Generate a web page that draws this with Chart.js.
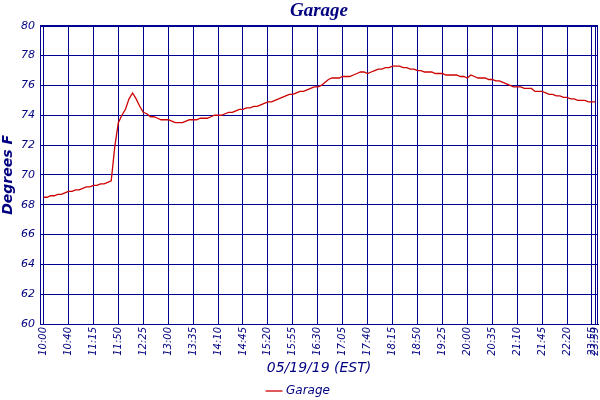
<!DOCTYPE html>
<html>
<head>
<meta charset="utf-8">
<title>Garage</title>
<script src="https://cdn.jsdelivr.net/npm/chart.js@4.4.1/dist/chart.umd.min.js"></script>
<style>
  html, body { margin: 0; padding: 0; background: #fff; }
  #wrap { width: 600px; height: 400px; position: relative; }
</style>
</head>
<body>
<div id="wrap"><canvas id="chartGarage"></canvas></div>
<script>
// ── Data ──
const seriesName = 'Garage';
const xTitle = '05/19/19 (EST)';
const yTitle = 'Degrees F';

// one reading per sample, 5 min apart, first sample sits on the "10:00" line
const temps = [
  68.5, 68.5, 68.6, 68.6, 68.7, 68.7, 68.8, 68.9, 68.9, 69.0,
  69.0, 69.1, 69.2, 69.2, 69.3, 69.3, 69.4, 69.4, 69.5, 69.6,
  71.9, 73.5, 74.0, 74.4, 75.1, 75.5, 75.1, 74.6, 74.2, 74.1,
  73.9, 73.9, 73.8, 73.7, 73.7, 73.7, 73.6, 73.5, 73.5, 73.5,
  73.6, 73.7, 73.7, 73.7, 73.8, 73.8, 73.8, 73.9, 74.0, 74.0,
  74.0, 74.1, 74.2, 74.2, 74.3, 74.4, 74.4, 74.5, 74.5, 74.6,
  74.6, 74.7, 74.8, 74.9, 74.9, 75.0, 75.1, 75.2, 75.3, 75.4,
  75.4, 75.5, 75.6, 75.6, 75.7, 75.8, 75.9, 75.9, 76.0, 76.2,
  76.4, 76.5, 76.5, 76.5, 76.6, 76.6, 76.6, 76.7, 76.8, 76.9,
  76.9, 76.8, 76.9, 77.0, 77.1, 77.1, 77.2, 77.2, 77.3, 77.3,
  77.3, 77.2, 77.2, 77.1, 77.1, 77.0, 77.0, 76.9, 76.9, 76.9,
  76.8, 76.8, 76.8, 76.7, 76.7, 76.7, 76.7, 76.6, 76.6, 76.5,
  76.7, 76.6, 76.5, 76.5, 76.5, 76.4, 76.4, 76.3, 76.3, 76.2,
  76.1, 76.0, 75.9, 75.9, 75.9, 75.8, 75.8, 75.8, 75.6, 75.6,
  75.6, 75.5, 75.4, 75.4, 75.3, 75.3, 75.2, 75.2, 75.1, 75.1,
  75.0, 75.0, 75.0, 74.9, 74.9, 74.9
];

// sample index of each labelled grid line, and its text
const tickAt = [0, 7, 14, 21, 28, 35, 42, 49, 56, 63, 70, 77, 84, 91, 98,
                105, 112, 119, 126, 133, 140, 147, 154, 155];
const tickLabels = ['10:00', '10:40', '11:15', '11:50', '12:25', '13:00', '13:35',
                    '14:10', '14:45', '15:20', '15:55', '16:30', '17:05', '17:40',
                    '18:15', '18:50', '19:25', '20:00', '20:35', '21:10', '21:45',
                    '22:20', '23:55', '23:59'];

const yMin = 60, yMax = 80, yStep = 2;

// ── Styling ──
const navy = '#000080';
const gridNavy = '#000090';
const red  = '#cc0000';

Chart.defaults.font.family = "'DejaVu Sans', Verdana, sans-serif";
Chart.defaults.color = navy;

// plot frame (right edge has no axis of its own);
// also centre the title over the plot area like the original
const framePlugin = {
  id: 'frame',
  afterLayout(chart) {
    if (chart.titleBlock) {
      chart.titleBlock.left = chart.chartArea.left;
      chart.titleBlock.right = chart.chartArea.right;
    }
  },
  afterDraw(chart) {
    const a = chart.chartArea, ctx = chart.ctx;
    ctx.save();
    ctx.strokeStyle = gridNavy;
    ctx.lineWidth = 1;
    ctx.strokeRect(Math.round(a.left) + 0.5, Math.round(a.top) + 0.5,
                   Math.round(a.right - a.left) - 1, Math.round(a.bottom - a.top));
    ctx.restore();
  }
};

new Chart(document.getElementById('chartGarage'), {
  type: 'line',
  data: {
    datasets: [{
      label: seriesName,
      data: temps.map((t, i) => ({ x: i, y: t })),
      borderColor: red,
      backgroundColor: red,
      borderWidth: 1.3,
      pointRadius: 0,
      tension: 0,
      fill: false
    }]
  },
  options: {
    responsive: true,
    maintainAspectRatio: false,
    devicePixelRatio: 1,
    animation: false,
    layout: { padding: { left: 0, right: 2, top: 0, bottom: -7 } },
    plugins: {
      title: {
        display: true,
        text: seriesName,
        color: navy,
        font: { family: "'Liberation Serif', serif", size: 19, weight: 'bold', style: 'italic' },
        padding: { top: 0, bottom: 3 }
      },
      legend: {
        position: 'bottom',
        labels: {
          usePointStyle: true,
          pointStyle: 'line',
          color: navy,
          boxWidth: 14,
          padding: 0,
          font: { size: 12, style: 'italic' }
        }
      },
      tooltip: { enabled: false }
    },
    scales: {
      x: {
        type: 'linear',
        min: -1,
        max: 155.7,
        afterBuildTicks: s => { s.ticks = tickAt.map(v => ({ value: v })); },
        afterFit: s => { s.height = 61; s.paddingRight = 0; s.paddingLeft = 0; },
        ticks: {
          autoSkip: false,
          minRotation: 90,
          maxRotation: 90,
          color: navy,
          padding: 3,
          font: { size: 10, style: 'italic' },
          callback: (v, i) => tickLabels[i]
        },
        grid: { color: gridNavy, drawTicks: false },
        border: { color: gridNavy },
        title: {
          display: true,
          text: xTitle,
          color: navy,
          font: { size: 14, style: 'italic' },
          padding: { top: 4, bottom: 8 }
        }
      },
      y: {
        min: yMin,
        max: yMax,
        afterFit: s => { s.width = 40; },
        ticks: {
          stepSize: yStep,
          color: navy,
          padding: 5,
          font: { size: 11, style: 'italic' }
        },
        grid: { color: gridNavy, drawTicks: false },
        border: { color: gridNavy },
        title: {
          display: true,
          text: yTitle,
          color: navy,
          font: { size: 14, weight: 'bold', style: 'italic' },
          padding: { top: 0, bottom: 2 }
        }
      }
    }
  },
  plugins: [framePlugin]
});
</script>
</body>
</html>
